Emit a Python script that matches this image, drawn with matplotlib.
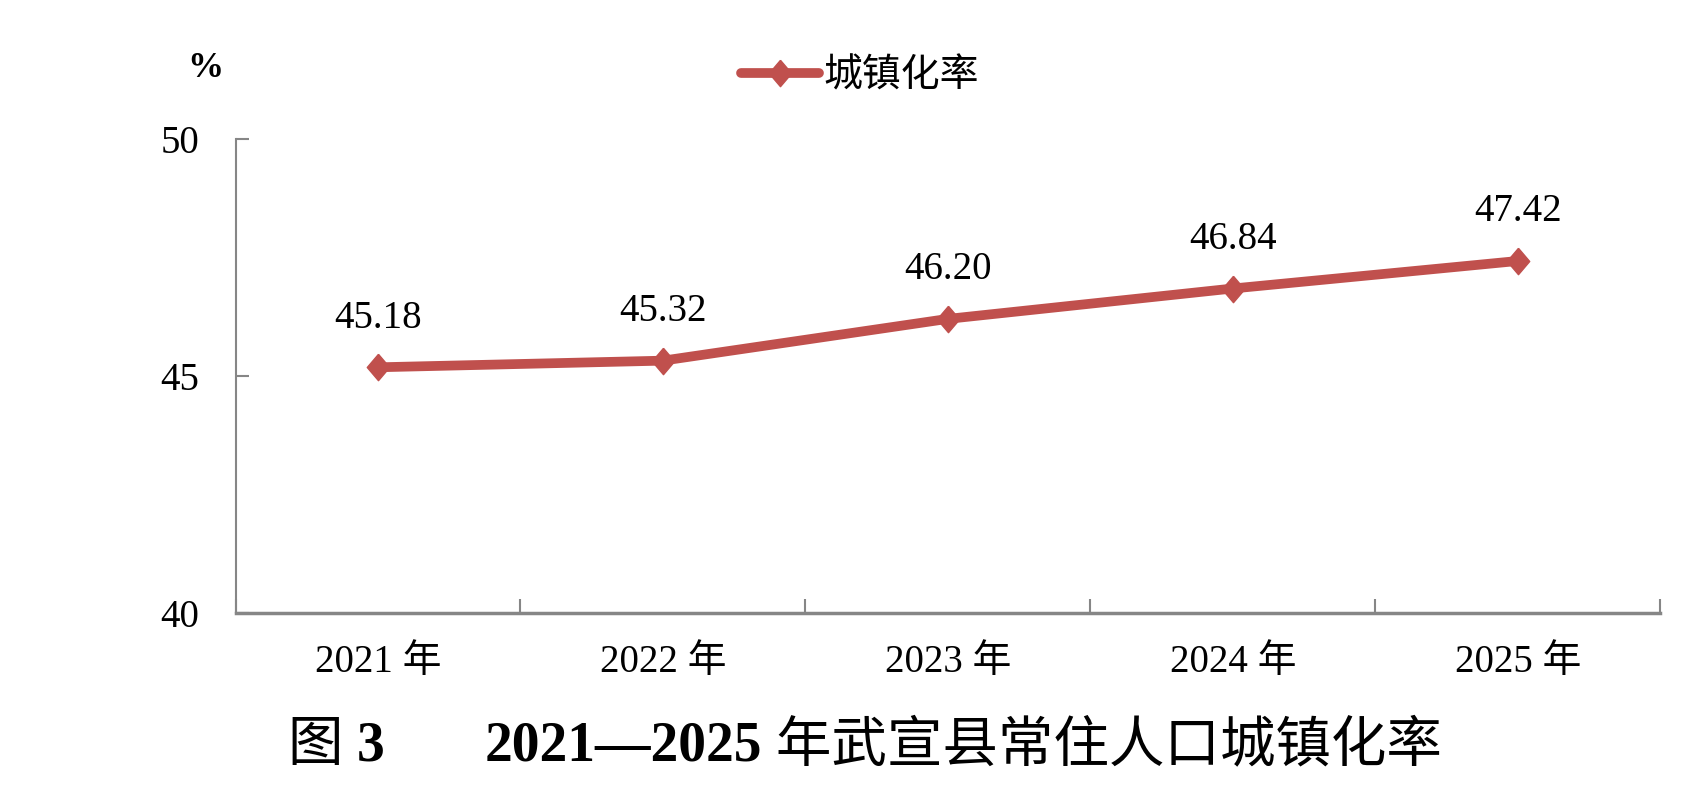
import matplotlib
matplotlib.use("Agg")
import matplotlib.pyplot as plt
from matplotlib.ticker import FixedLocator
from matplotlib.offsetbox import TextArea, HPacker, DrawingArea, AnchoredOffsetbox

plt.rcParams['font.family'] = ['Liberation Serif', 'Noto Sans CJK SC', 'DejaVu Sans']

# data
years = ['2021 年', '2022 年', '2023 年', '2024 年', '2025 年']
rate = [45.18, 45.32, 46.20, 46.84, 47.42]
yticks = [40, 45, 50]

red = '#C0504D'
grey = '#868686'
diamond = [(0, 1), (0.85, 0), (0, -1), (-0.85, 0), (0, 1)]

fig = plt.figure(figsize=(16.86, 8.10), dpi=100)
ax = fig.add_axes([0.1397, 0.243, 0.845, 0.586])

x = list(range(len(years)))
ax.plot(x, rate, color=red, lw=7, marker=diamond, markersize=19,
        markeredgecolor=red, markerfacecolor=red, label='城镇化率',
        solid_capstyle='round', solid_joinstyle='round')

for xi, v in zip(x, rate):
    ax.annotate('%.2f' % v, (xi, v), xytext=(0, 22), textcoords='offset points',
                ha='center', va='bottom', fontsize=28)

ax.set_xlim(-0.5, len(years) - 0.5)
ax.set_ylim(40, 50)
ax.set_yticks(yticks)
ax.set_yticklabels([str(t) for t in yticks], fontsize=28)
ax.set_xticks(x)
ax.set_xticklabels(years, fontsize=28)
ax.xaxis.set_minor_locator(FixedLocator([i - 0.5 for i in range(len(years) + 1)]))
ax.tick_params(axis='x', which='major', length=0, pad=22)
ax.tick_params(axis='x', which='minor', direction='in', length=10, width=1.5, color=grey)
ax.tick_params(axis='y', direction='in', length=9, width=1.5, color=grey, pad=26)

for s in ['top', 'right']:
    ax.spines[s].set_visible(False)
ax.spines['left'].set_color(grey)
ax.spines['left'].set_linewidth(1.5)
ax.spines['bottom'].set_color(grey)
ax.spines['bottom'].set_linewidth(2.5)
for ln in ax.get_lines():
    ln.set_clip_on(False)

fig.text(0.122, 0.916, '%', fontsize=26, fontweight='bold', ha='center', va='center')

leg = ax.legend(loc='center', bbox_to_anchor=(0.51, 0.905), bbox_transform=fig.transFigure,
                frameon=False, fontsize=28, handlelength=2.0, handletextpad=0.1,
                borderaxespad=0)

# caption: Chinese regular, numbers bold
fs = 40
parts = [
    TextArea('图 ', textprops=dict(fontsize=fs)),
    TextArea('3', textprops=dict(fontsize=fs, fontweight='bold')),
    DrawingArea(72, 1),
    TextArea('2021—2025', textprops=dict(fontsize=fs, fontweight='bold')),
    TextArea(' 年武宣县常住人口城镇化率', textprops=dict(fontsize=fs)),
]
pack = HPacker(children=parts, align='baseline', pad=0, sep=0)
cap = AnchoredOffsetbox(loc='center', child=pack, frameon=False, pad=0, borderpad=0,
                        bbox_to_anchor=(0.513, 0.078), bbox_transform=fig.transFigure)
fig.add_artist(cap)

fig.savefig('out.png', dpi=100)
